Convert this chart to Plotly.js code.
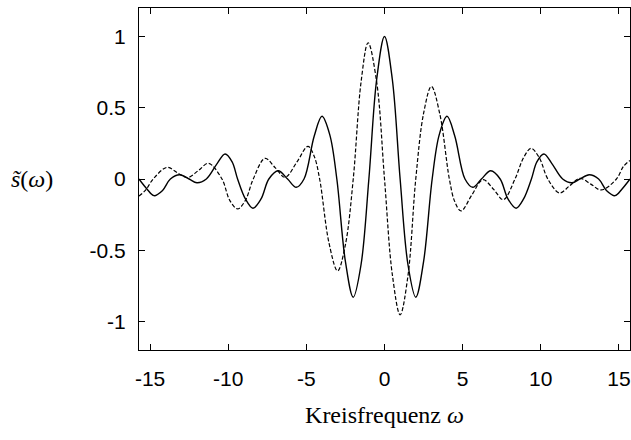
<!DOCTYPE html>
<html>
<head>
<meta charset="utf-8">
<script src="https://cdn.plot.ly/plotly-3.0.1.min.js"></script>
<style>html,body{margin:0;padding:0;background:#fff;}</style>
</head>
<body>
<div id="plot" style="width:631px;height:440px;"></div>
<script>
// Solid curve (even): omega and value
var solidW = [-15.71,-15.2,-14.75,-14.2,-13.7,-13.1,-12.5,-12.0,-11.4,-10.7,-10.2,-9.75,-9.4,-8.9,-8.42,-7.9,-7.4,-6.8,-6.2,-5.65,-5.15,-4.5,-4.0,-3.5,-3.05,-2.5,-2.0,-1.5,-1.0,-0.5,0,
              0.5,1.0,1.5,2.0,2.5,3.05,3.5,4.0,4.5,5.15,5.65,6.2,6.8,7.4,7.9,8.42,8.9,9.4,9.75,10.2,10.7,11.4,12.0,12.5,13.1,13.7,14.2,14.75,15.2,15.71];
var solidS = [0.0,-0.07,-0.117,-0.08,0.0,0.03,0.0,-0.026,0.0,0.11,0.175,0.12,0.0,-0.14,-0.205,-0.14,0.0,0.058,0.0,-0.058,0.0,0.30,0.44,0.31,0.0,-0.58,-0.83,-0.60,0.0,0.70,1.0,
              0.70,0.0,-0.60,-0.83,-0.58,0.0,0.31,0.44,0.30,0.0,-0.058,0.0,0.058,0.0,-0.14,-0.205,-0.14,0.0,0.12,0.175,0.11,0.0,-0.026,0.0,0.03,0.0,-0.08,-0.117,-0.07,0.0];

// Dashed curve (odd)
var dashedW = [-15.71,-15.3,-14.8,-13.9,-13.2,-12.6,-11.9,-11.26,-10.4,-9.9,-9.4,-8.9,-8.4,-7.64,-7.0,-6.36,-5.6,-4.9,-4.5,-4.15,-3.55,-3.0,-2.5,-2.0,-1.5,-1.05,-0.5,0,
               0.5,1.0,1.5,2.0,2.5,3.0,3.55,4.15,4.5,4.9,5.6,6.3,7.0,7.6,8.35,8.9,9.38,9.9,10.45,11.2,11.85,12.5,13.2,13.87,14.84,15.3,15.71];
var dashedS = [-0.12,-0.08,0.0,0.082,0.04,0.01,0.06,0.11,0.0,-0.15,-0.21,-0.15,0.0,0.145,0.08,0.012,0.12,0.229,0.16,0.0,-0.45,-0.645,-0.46,0.0,0.68,0.956,0.68,0.0,
               -0.67,-0.953,-0.68,0.0,0.46,0.65,0.45,0.0,-0.16,-0.224,-0.11,-0.005,-0.075,-0.145,0.0,0.15,0.215,0.15,0.0,-0.098,-0.047,0.005,-0.036,-0.077,0.0,0.09,0.13];

var xTicks = [-15,-10,-5,0,5,10,15];
var xTickText = ["-15","-10","-5","0","5","10","15"];
var yTicks = [-1,-0.5,0,0.5,1];
var yTickText = ["-1","-0.5","0","0.5","1"];

var traces = [
  {x: solidW, y: solidS, mode: 'lines', line: {color: '#000', width: 1.4, shape: 'spline', smoothing: 1}, showlegend: false, hoverinfo: 'skip'},
  {x: dashedW, y: dashedS, mode: 'lines', line: {color: '#000', width: 1.2, dash: '4px,2px', shape: 'spline', smoothing: 1}, showlegend: false, hoverinfo: 'skip'}
];

var tickFont = {family: 'Liberation Sans, Arial, sans-serif', size: 21, color: '#000'};
var layout = {
  width: 631, height: 440,
  margin: {l: 139, r: 1, t: 8, b: 90},
  paper_bgcolor: '#fff', plot_bgcolor: '#fff',
  xaxis: {
    range: [-15.708, 15.708], tickvals: xTicks, ticktext: xTickText,
    ticks: 'inside', ticklen: 6, tickcolor: '#000', mirror: 'ticks',
    showline: true, linecolor: '#000', linewidth: 1, showgrid: false, zeroline: false,
    tickfont: tickFont, ticklabelstandoff: 10,
    title: {text: 'Kreisfrequenz <i>ω</i>', font: {family: 'Liberation Serif, serif', size: 24, color: '#000'}, standoff: 16}
  },
  yaxis: {
    range: [-1.2, 1.2], tickvals: yTicks, ticktext: yTickText,
    ticks: 'inside', ticklen: 6, tickcolor: '#000', mirror: 'ticks',
    showline: true, linecolor: '#000', linewidth: 1, showgrid: false, zeroline: false,
    tickfont: tickFont, ticklabelstandoff: 8
  },
  annotations: [{
    text: '<i>s̃</i>(<i>ω</i>)', xref: 'paper', yref: 'y', x: -0.217, y: 0,
    xanchor: 'center', yanchor: 'middle', showarrow: false,
    font: {family: 'Liberation Serif, serif', size: 24, color: '#000'}
  }]
};
Plotly.newPlot('plot', traces, layout, {staticPlot: true, displayModeBar: false});
</script>
</body>
</html>
